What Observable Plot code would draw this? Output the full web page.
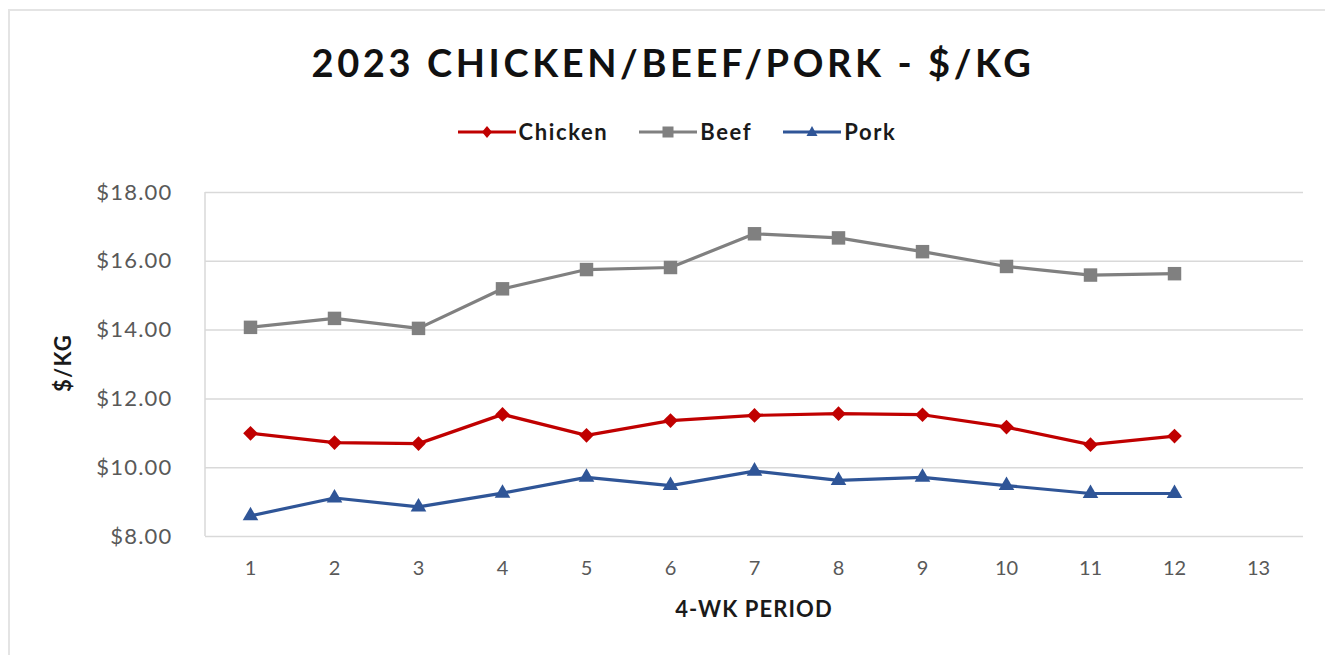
<!DOCTYPE html>
<html><head><meta charset="utf-8">
<script src="https://cdn.jsdelivr.net/npm/d3@7"></script>
<script src="https://cdn.jsdelivr.net/npm/@observablehq/plot@0.6"></script>
<style>
body{margin:0;background:#fff;font-family:Lato,"Open Sans",sans-serif;}
#wrap{position:relative;width:1325px;height:655px;overflow:hidden;background:#fff;}
#frame{position:absolute;left:8px;top:9px;width:1340px;height:700px;border-top:2px solid #e4e4e4;border-left:2px solid #e4e4e4;box-sizing:border-box;}
#title{position:absolute;left:0;width:1346px;top:37px;line-height:50px;text-align:center;font-weight:700;font-size:38px;letter-spacing:3.6px;color:#111;}
#legend{position:absolute;left:0;width:1354px;top:118px;line-height:28px;display:flex;justify-content:center;gap:31px;font-weight:700;font-size:22px;letter-spacing:1.6px;color:#1a1a1a;}
#legend .item{display:flex;align-items:center;gap:3px;}
#ylabel{position:absolute;left:62px;top:363px;transform:translate(-50%,-50%) rotate(-90deg);font-weight:700;font-size:22px;letter-spacing:1.2px;color:#1a1a1a;white-space:nowrap;}
#xlabel{position:absolute;left:754px;top:608px;transform:translate(-50%,-50%);font-weight:700;font-size:22px;letter-spacing:1.1px;color:#1a1a1a;white-space:nowrap;}
#chart{position:absolute;left:0;top:160px;}
#chart svg g[aria-label="y-axis tick label"] text{letter-spacing:1.2px;}
</style></head>
<body><div id="wrap">
<div id="frame"></div>
<div id="title">2023 CHICKEN/BEEF/PORK - $/KG</div>
<div id="legend"></div>
<div id="ylabel">$/KG</div>
<div id="xlabel">4-WK PERIOD</div>
<div id="chart"></div>
</div>
<script>
const periods = [1,2,3,4,5,6,7,8,9,10,11,12,13];
const seriesNames = ["Chicken","Beef","Pork"];
const chicken = [11.00,10.73,10.70,11.55,10.94,11.37,11.52,11.57,11.54,11.18,10.67,10.92];
const beef    = [14.08,14.34,14.05,15.20,15.76,15.82,16.80,16.68,16.28,15.85,15.60,15.64];
const pork    = [8.60,9.12,8.86,9.26,9.72,9.48,9.90,9.63,9.72,9.48,9.25,9.25];
const yTicks  = [8,10,12,14,16,18];

const colors  = {Chicken:"#C00000", Beef:"#808080", Pork:"#2F5597"};
const symbols = {Chicken:"diamond2", Beef:"square", Pork:"triangle"};
const radii   = {Chicken:6.6, Beef:7.6, Pork:5.8};
const valuesBy = {Chicken:chicken, Beef:beef, Pork:pork};

const data = [];
for (const s of seriesNames) valuesBy[s].forEach((v,i)=>data.push({series:s, period:periods[i], price:v}));

// legend
const legend = document.getElementById("legend");
const legendPaths = {
  Chicken:'<path d="M29,4 L34,10 L29,16 L24,10 Z" fill="#C00000"/>',
  Beef:'<rect x="23.5" y="4.5" width="11" height="11" fill="#808080"/>',
  Pork:'<path d="M29,4 L34.5,14 L23.5,14 Z" fill="#2F5597"/>'
};
for (const s of seriesNames){
  const it = document.createElement("div"); it.className="item";
  it.innerHTML = `<svg width="58" height="20"><line x1="0" x2="58" y1="10" y2="10" stroke="${colors[s]}" stroke-width="3"/>${legendPaths[s]}</svg><span>${s}</span>`;
  legend.appendChild(it);
}

const leftAxisLine = (index, scales, values, dims) => {
  const ns = "http://www.w3.org/2000/svg";
  const l = document.createElementNS(ns, "line");
  l.setAttribute("x1", dims.marginLeft); l.setAttribute("x2", dims.marginLeft);
  l.setAttribute("y1", dims.marginTop); l.setAttribute("y2", dims.height - dims.marginBottom);
  l.setAttribute("stroke", "#d9d9d9"); l.setAttribute("stroke-width", "1.5");
  return l;
};

const marks = [
  Plot.gridY(yTicks, {stroke:"#d9d9d9", strokeOpacity:1, strokeWidth:1.5}),
  leftAxisLine,
  Plot.axisY(yTicks, {tickSize:0, tickPadding:33, tickFormat:d3.format("$.2f"), fontSize:22, color:"#595959", label:null}),
  Plot.axisX(periods, {tickSize:0, tickPadding:24, fontSize:20, color:"#595959", label:null})
];
for (const s of seriesNames){
  const d = data.filter(r=>r.series===s);
  marks.push(Plot.line(d, {x:"period", y:"price", stroke:colors[s], strokeWidth:3.2}));
  marks.push(Plot.dot(d, {x:"period", y:"price", symbol:symbols[s], r:radii[s], fill:colors[s], stroke:"none"}));
}

const chart = Plot.plot({
  width:1325, height:480,
  marginTop:32, marginBottom:104, marginLeft:205, marginRight:22,
  style:{fontFamily:"Lato, 'Open Sans', sans-serif", background:"transparent"},
  x:{type:"point", domain:periods, padding:0.5, align:0.5},
  y:{domain:[8,18]},
  marks
});
document.getElementById("chart").appendChild(chart);
</script>
</body></html>
